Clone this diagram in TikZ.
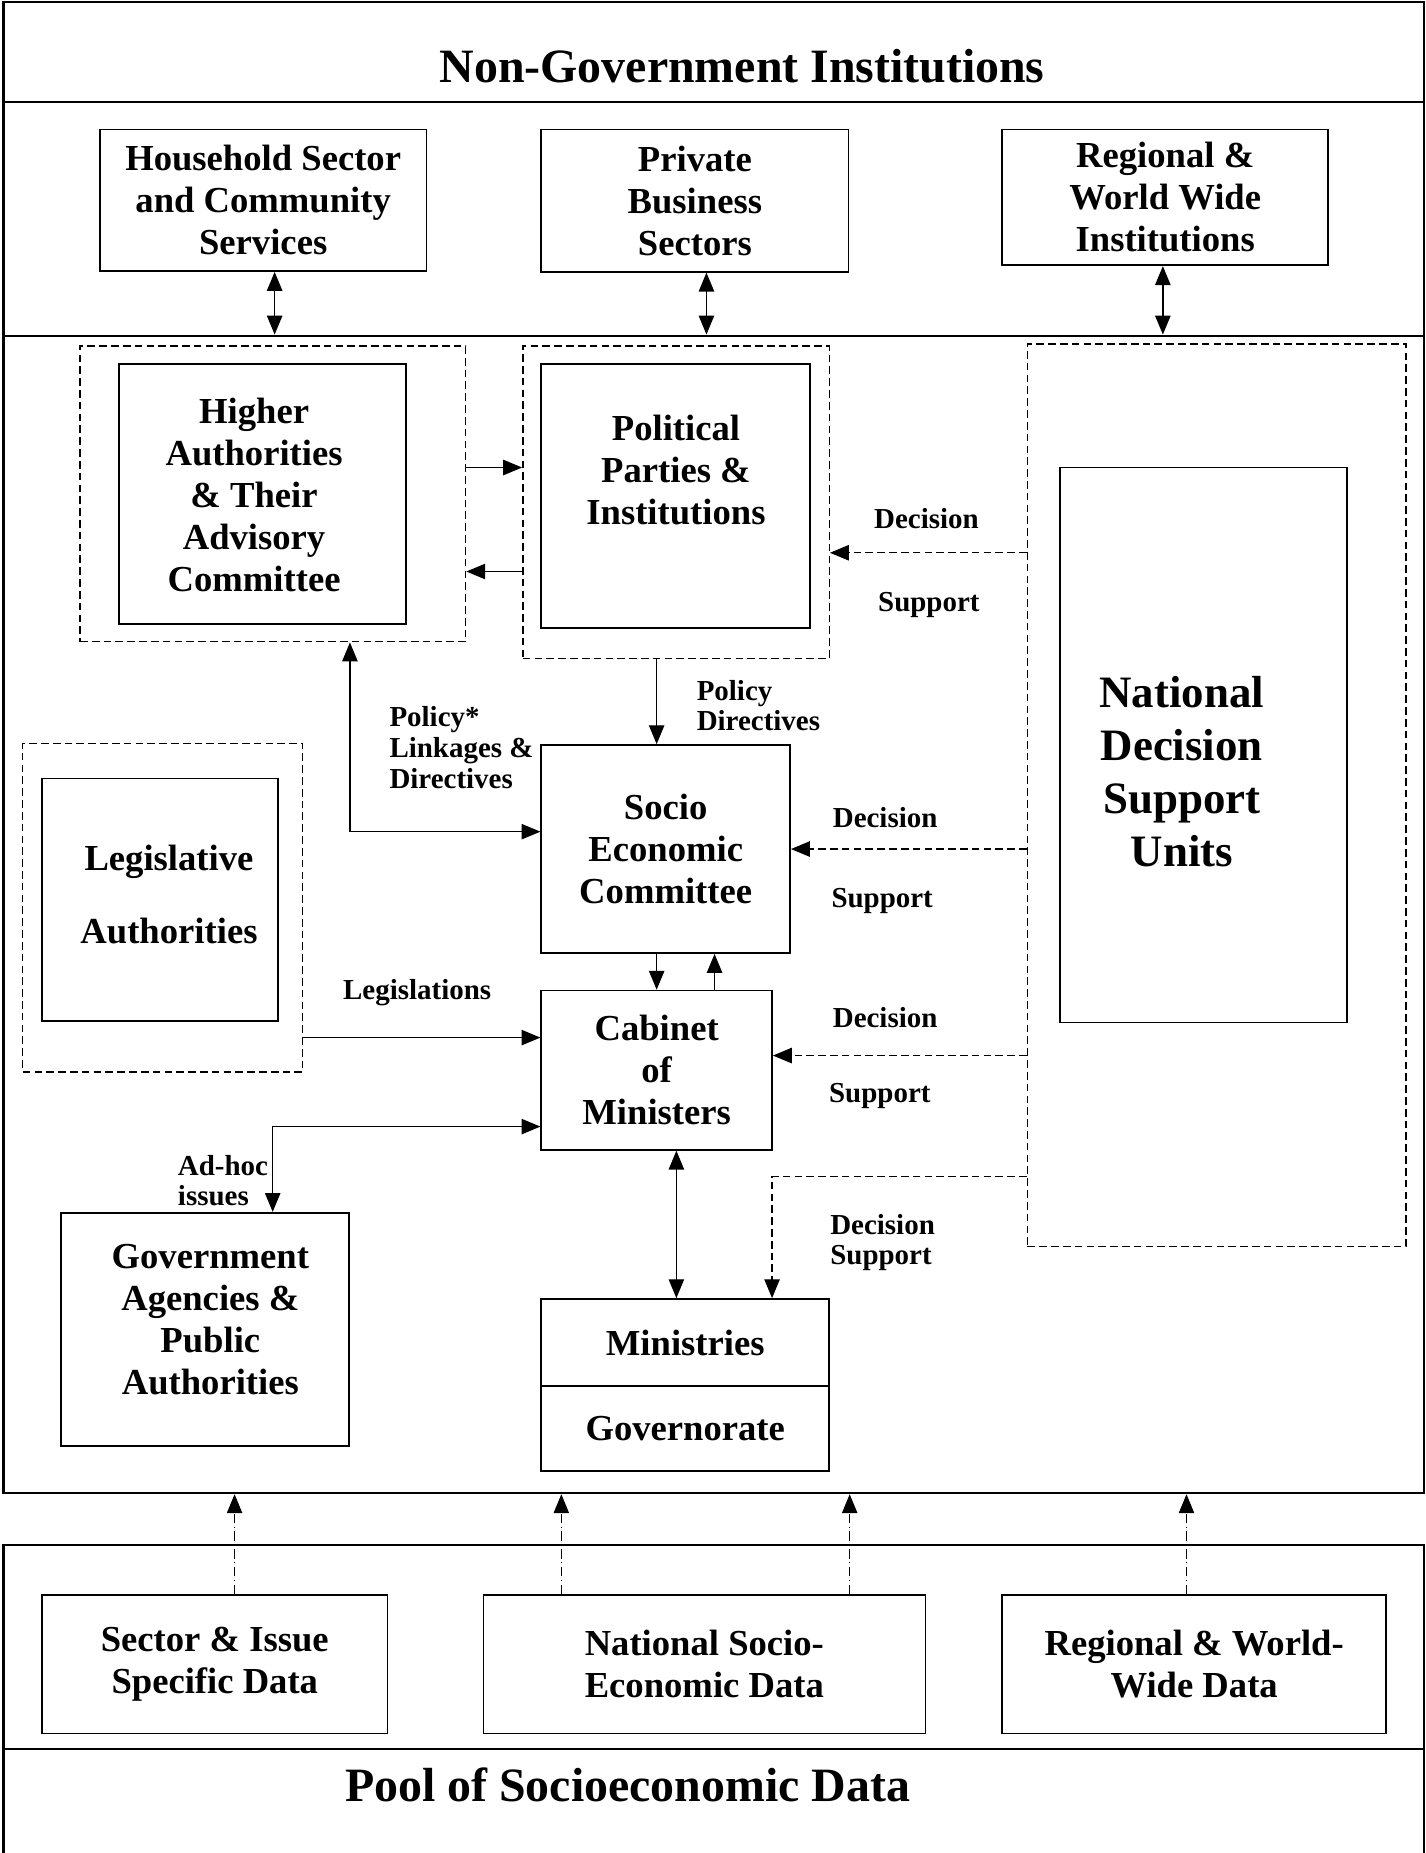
\documentclass[tikz,border=0pt]{standalone}
\usepackage{fontspec}
\setmainfont{Liberation Serif}
\usepackage{tikz}
\usetikzlibrary{arrows.meta}
\newcommand{\bxfont}{\fontsize{31}{35.5}\selectfont\bfseries}
\newcommand{\lblfont}{\fontsize{24.5}{26}\selectfont\bfseries}
\newcommand{\ttlfont}{\fontsize{40.5}{48}\selectfont\bfseries}
\newcommand{\ndsufont}{\fontsize{38}{44.7}\selectfont\bfseries}
\tikzstyle{band} = [rectangle, draw = black, line width = 1.8pt, inner sep = 0pt]
\tikzstyle{box} = [rectangle, draw = black, line width = 1.4pt, inner sep = 2pt, align = center, font = \bxfont]
\tikzstyle{dframe} = [rectangle, draw = black, line width = 1.2pt, dash pattern = on 6.5pt off 3.5pt, inner sep = 0pt]
\tikzstyle{lbl} = [inner sep = 0pt, align = left, font = \lblfont]
\tikzstyle{dsarrow} = [->, line width = 1.2pt, dash pattern = on 6.5pt off 3.5pt]
\tikzstyle{dataarrow} = [->, line width = 1pt, dash pattern = on 8pt off 3pt on 1pt off 3pt]

\begin{document}
\begin{tikzpicture}[x = 1pt, y = -1pt, line width = 1.2pt, >= {Triangle[length = 16pt, width = 13pt]}]
	\useasboundingbox (0,0) rectangle (1206,1568);
	% frame
	\node (topband)[band, minimum width = 1202pt, minimum height = 84pt] at (604,44) {};
	\node (ngoband)[band, minimum width = 1202pt, minimum height = 198pt] at (604,185) {};
	\node (govband)[band, minimum width = 1202pt, minimum height = 979.5pt] at (604,773.75) {};
	\node (databand)[band, minimum width = 1202pt, minimum height = 172.5pt] at (604,1393.75) {};
	\node (poolband)[band, minimum width = 1202pt, minimum height = 120pt] at (604,1540) {};
	\node (ngotitle)[font = \ttlfont] at (628,56) {Non-Government Institutions};
	\node (pooltitle)[font = \ttlfont] at (531,1510) {Pool of Socioeconomic Data};
	
	% non-government
	\node (household)[box, minimum width = 276.2pt, minimum height = 119.8pt] at (222.7,169.5) {Household Sector\\and Community\\Services};
	\node (private)[box, minimum width = 260pt, minimum height = 120.4pt, right of = household, node distance = 365.3pt, yshift = -0.3pt] {Private\\Business\\Sectors};
	\node (regional)[box, minimum width = 276pt, minimum height = 115pt, right of = private, node distance = 398pt, yshift = 2.8pt] {Regional \&\\World Wide\\Institutions};
	
	% government
	\node (higherframe)[dframe, minimum width = 326.3pt, minimum height = 250.2pt] at (230.85,417.9) {};
	\node (higher)[box, minimum width = 242.9pt, minimum height = 219.8pt] at (222.35,417.9) {};
	\node (highertxt)[align = center, font = \bxfont] at (215,419) {Higher\\Authorities\\\& Their\\Advisory\\Committee};
	\node (polframe)[dframe, minimum width = 259.3pt, minimum height = 264.5pt] at (572.05,425.05) {};
	\node (political)[box, minimum width = 227.6pt, minimum height = 223.2pt] at (571.8,419.6) {};
	\node (politicaltxt)[align = center, font = \bxfont] at (572,397.5) {Political\\Parties \&\\Institutions};
	\node (ndsuframe)[dframe, minimum width = 320.2pt, minimum height = 763.6pt] at (1029.5,672.8) {};
	\node (ndsu)[box, minimum width = 243pt, minimum height = 469.7pt] at (1018.5,630.45) {};
	\node (ndsutxt)[align = center, font = \ndsufont] at (1000,653) {National\\Decision\\Support\\Units};
	\node (legframe)[dframe, minimum width = 237pt, minimum height = 278pt] at (137.7,768) {};
	\node (legis)[box, minimum width = 200pt, minimum height = 205.2pt] at (135.4,761.4) {};
	\node (legistxt)[align = center, font = \bxfont] at (143,757) {Legislative\\[26.5pt]Authorities};
	\node (secom)[box, minimum width = 210.6pt, minimum height = 176.1pt] at (563.3,718.45) {Socio\\Economic\\Committee};
	\node (cabinet)[box, minimum width = 195.3pt, minimum height = 134.8pt] at (555.65,905.6) {Cabinet\\of\\Ministers};
	\node (govagency)[box, minimum width = 243.9pt, minimum height = 197.3pt] at (173.45,1124.85) {};
	\node (govagencytxt)[align = center, font = \bxfont] at (178,1116.5) {Government\\Agencies \&\\Public\\Authorities};
	\node (ministries)[box, minimum width = 243.7pt, minimum height = 73.8pt] at (579.85,1136.1) {Ministries};
	\node (governorate)[box, minimum width = 243.7pt, minimum height = 72pt, below of = ministries, node distance = 72.9pt] {Governorate};
	
	% data
	\node (sectordata)[box, minimum width = 292.5pt, minimum height = 117.5pt] at (181.75,1408.25) {Sector \& Issue\\Specific Data};
	\node (nationaldata)[box, minimum width = 374pt, minimum height = 117.5pt, right of = sectordata, node distance = 414.25pt] {National Socio-\\Economic Data};
	\node (worlddata)[box, minimum width = 325pt, minimum height = 117.5pt, right of = nationaldata, node distance = 414.5pt] {Regional \& World-\\Wide Data};
	
	% labels
	\node (dec1)[lbl] at (784,439) {Decision};
	\node (sup1)[lbl] at (786,512) {Support};
	\node (poldir)[lbl, anchor = west] at (589,597) {Policy\\Directives};
	\node (pollink)[lbl, anchor = west] at (329,632.5) {Policy*\\Linkages \&\\Directives};
	\node (dec2)[lbl] at (749,692) {Decision};
	\node (sup2)[lbl] at (746.5,762) {Support};
	\node (legislations)[lbl] at (353,840) {Legislations};
	\node (dec3)[lbl] at (749,861) {Decision};
	\node (sup3)[lbl] at (744.5,927) {Support};
	\node (adhoc)[lbl, anchor = west] at (150,999) {Ad-hoc\\issues};
	\node (decsup)[lbl, anchor = west] at (702,1051.5) {Decision\\Support};
	
	\draw [<->] ([xshift = 9.7pt]household.south) -- ([xshift = 9.7pt]household.south |- govband.north);
	\draw [<->] ([xshift = 9.8pt]private.south) -- ([xshift = 9.8pt]private.south |- govband.north);
	\draw [<->] ([xshift = -2pt]regional.south) -- ([xshift = -2pt]regional.south |- govband.north);
	
	\draw [->] ([yshift = 22.3pt]higherframe.east) -- ([yshift = 22.3pt]higherframe.east -| polframe.west);
	\draw [->] ([yshift = -65.7pt]higherframe.east -| polframe.west) -- ([yshift = -65.7pt]higherframe.east);
	\draw [->] (polframe.south -| cabinet.north) -- (secom.north -| cabinet.north);
	\draw [<->] (higherframe.south -| govagency.east) |- ([yshift = 14.7pt]secom.west);
	\draw [->] (secom.south -| cabinet.north) -- (cabinet.north);
	\draw [->] ([xshift = 49pt]cabinet.north) -- ([xshift = 49pt]cabinet.north |- secom.south);
	\draw [->] ([yshift = 27.6pt]cabinet.west -| legframe.east) -- ([yshift = 27.6pt]cabinet.west);
	\draw [<->] ([yshift = -47.7pt]cabinet.west) -| ([xshift = 57.3pt]govagency.north);
	\draw [<->] ([xshift = 16.7pt]cabinet.south) -- ([xshift = 16.7pt]cabinet.south |- ministries.north);
	
	\draw [dsarrow] ([yshift = -42.7pt]polframe.east -| ndsuframe.west) -- ([yshift = -42.7pt]polframe.east);
	\draw [dsarrow] (secom.east -| ndsuframe.west) -- (secom.east);
	\draw [dsarrow] ([yshift = 12.4pt]cabinet.east -| ndsuframe.west) -- ([yshift = 12.4pt]cabinet.east);
	\coordinate (dsbend) at (653.3,995.5);
	\draw [dsarrow] (dsbend -| ndsuframe.west) -- (dsbend) -- (dsbend |- ministries.north);
	
	\draw [dataarrow] ([xshift = 16.75pt]sectordata.north) -- ([xshift = 16.75pt]sectordata.north |- govband.south);
	\draw [dataarrow] ([xshift = -121pt]nationaldata.north) -- ([xshift = -121pt]nationaldata.north |- govband.south);
	\draw [dataarrow] ([xshift = 123pt]nationaldata.north) -- ([xshift = 123pt]nationaldata.north |- govband.south);
	\draw [dataarrow] ([xshift = -6.5pt]worlddata.north) -- ([xshift = -6.5pt]worlddata.north |- govband.south);
\end{tikzpicture}
\end{document}
